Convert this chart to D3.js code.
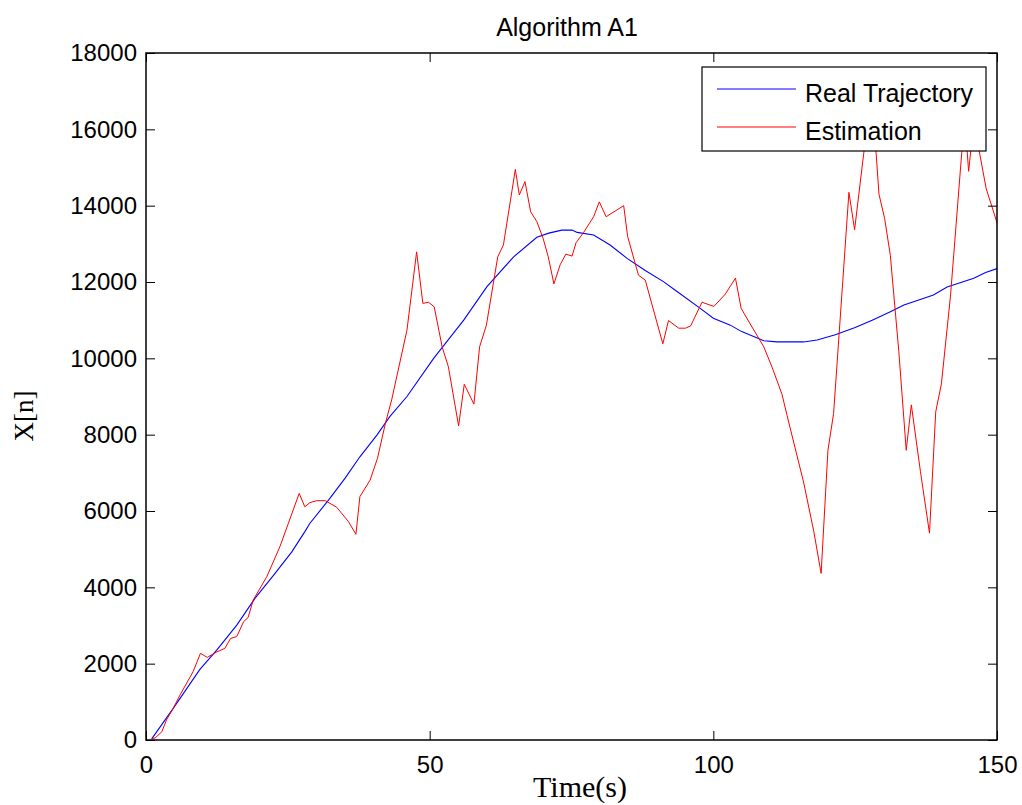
<!DOCTYPE html>
<html>
<head>
<meta charset="utf-8">
<script src="https://cdn.jsdelivr.net/npm/d3@7"></script>
<style>
  body { margin: 0; background: #fff; }
  svg { display: block; }
</style>
</head>
<body>
<div id="chart"></div>
<script>
// values
const realTime = [1, 4.8, 9.5, 12.5, 16, 19.2, 22.5, 25.7, 28, 28.9, 32.2, 35.1, 37.7, 40.7, 43, 46, 50.7, 56, 60.1, 64.8,
    68.9, 71, 73.3, 75.1, 76, 78.9, 81.8, 84.8, 88, 91.2, 93.6, 97.7, 100, 103, 105, 108.9, 111.2, 115.9, 118.3, 121.5,
    125, 128, 131.2, 133.6, 138.8, 141.2, 143.5, 145.9, 148, 150]
const realValue = [30, 830, 1850, 2360, 3010, 3710, 4320, 4930, 5460, 5680, 6290, 6860, 7420, 7990, 8480, 9000, 10000, 11000, 11880, 12660,
    13170, 13280, 13360, 13360, 13300, 13230, 12970, 12620, 12300, 12010, 11750, 11310, 11050, 10870, 10700, 10460, 10430, 10430, 10480, 10620,
    10810, 11000, 11220, 11400, 11660, 11870, 11980, 12100, 12250, 12350]

const estTime = [1, 1.6, 2.8, 3.6, 4.8, 6, 8.3, 9.6, 10.8, 12.5, 13.9, 14.9, 16, 17.2, 18, 18.9, 21.3, 23.6, 27, 28,
    28.9, 30.1, 31.6, 33.6, 35.7, 37, 37.7, 39.5, 40.8, 42.2, 43.3, 46, 47.7, 48.8, 49.8, 50.8, 52.2, 53.3, 55.1, 56.1,
    57.8, 58.8, 60, 62, 63, 65.1, 65.8, 66.8, 67.8, 68.9, 70, 70.9, 71.9, 73, 74, 75.1, 75.8, 77.1, 78.9, 79.9,
    81.1, 84.2, 84.9, 86.8, 88, 91.1, 92.1, 93.9, 95.1, 96, 98, 100.1, 102.1, 103.9, 104.9, 106.5, 108.9, 110.4, 112.1, 113,
    115.9, 117.7, 119, 120.2, 121.2, 123.9, 124.9, 126.5, 127.6, 128.7, 129.2, 130.2, 131.2, 132.7, 134, 134.9, 136.5, 138.1, 139.2, 140.2,
    141.8, 143.6, 144.3, 145, 145.9, 148.1, 149.1, 150]
const estValue = [40, 50, 218, 524, 830, 1180, 1790, 2270, 2165, 2310, 2400, 2660, 2710, 3100, 3210, 3670, 4280, 5065, 6460, 6110,
    6220, 6270, 6270, 6100, 5720, 5390, 6375, 6810, 7380, 8300, 8910, 10740, 12790, 11440, 11470, 11350, 10300, 9780, 8230, 9320,
    8800, 10300, 10870, 12660, 12970, 14950, 14280, 14630, 13840, 13580, 13140, 12660, 11950, 12450, 12730, 12680, 13030, 13290, 13710, 14100,
    13710, 14000, 13190, 12180, 12050, 10380, 10990, 10790, 10790, 10850, 11470, 11360, 11680, 12100, 11310, 10900, 10300, 9750, 9060, 8500,
    6760, 5470, 4365, 7590, 8555, 14350, 13370, 15360, 16600, 15360, 14300, 13660, 12700, 10170, 7590, 8780, 7040, 5420, 8600, 9330,
    11630, 15040, 16300, 14900, 16200, 14440, 13980, 13550]

const xTicks = [0, 50, 100, 150]
const yTicks = [0, 2000, 4000, 6000, 8000, 10000, 12000, 14000, 16000, 18000]
const seriesNames = ['Real Trajectory', 'Estimation']

const [WIDTH, HEIGHT] = [1022, 805]
const MARGIN = { left: 146, right: 25, top: 53, bottom: 65 }
const SANS = 'Liberation Sans, Arial, sans-serif'
const SERIF = 'Liberation Serif, Times New Roman, serif'
const TICK = 9

const svg = d3.select('#chart').append('svg')
    .attr('width', WIDTH)
    .attr('height', HEIGHT)

const x = d3.scaleLinear([0, 150], [MARGIN.left, WIDTH - MARGIN.right])
const y = d3.scaleLinear([0, 18000], [HEIGHT - MARGIN.bottom, MARGIN.top])

svg.append('clipPath').attr('id', 'plot-clip')
    .append('rect')
    .attr('x', x(0)).attr('y', y(18000))
    .attr('width', x(150) - x(0)).attr('height', y(0) - y(18000))

const line = d3.line().x(d => x(d[0])).y(d => y(d[1]))
const real = realTime.map((t, i) => [t, realValue[i]])
const est = estTime.map((t, i) => [t, estValue[i]])

const lines = svg.append('g').attr('clip-path', 'url(#plot-clip)')
lines.append('path').datum(real)
    .attr('d', line).attr('fill', 'none')
    .attr('stroke', '#0000ff').attr('stroke-width', 1.1)
lines.append('path').datum(est)
    .attr('d', line).attr('fill', 'none')
    .attr('stroke', '#ff0000').attr('stroke-width', 1)

// ticks pointing inwards on all four sides, like matlab
const styleAxis = g => {
    g.select('.domain').remove()
    g.selectAll('.tick line').attr('stroke', '#000')
    g.selectAll('text').attr('fill', '#000')
        .style('font-family', SANS).style('font-size', '24px')
}

svg.append('g')
    .attr('transform', `translate(0,${y(0)})`)
    .call(d3.axisBottom(x).tickValues(xTicks).tickSize(-TICK))
    .call(styleAxis)
    .call(g => g.selectAll('text').attr('dy', null).attr('y', 33))
svg.append('g')
    .attr('transform', `translate(0,${y(18000)})`)
    .call(d3.axisTop(x).tickValues(xTicks).tickSize(-TICK).tickFormat(''))
    .call(styleAxis)
svg.append('g')
    .attr('transform', `translate(${x(0)},0)`)
    .call(d3.axisLeft(y).tickValues(yTicks).tickSize(-TICK).tickPadding(9).tickFormat(d3.format('d')))
    .call(styleAxis)
svg.append('g')
    .attr('transform', `translate(${x(150)},0)`)
    .call(d3.axisRight(y).tickValues(yTicks).tickSize(-TICK).tickFormat(''))
    .call(styleAxis)

svg.append('rect')
    .attr('x', x(0)).attr('y', y(18000))
    .attr('width', x(150) - x(0)).attr('height', y(0) - y(18000))
    .attr('fill', 'none').attr('stroke', '#000').attr('stroke-width', 1.5)

svg.append('text')
    .attr('x', 567).attr('y', 36)
    .attr('text-anchor', 'middle')
    .style('font-family', SANS).style('font-size', '25px')
    .text('Algorithm A1')

svg.append('text')
    .attr('x', 580).attr('y', 797)
    .attr('text-anchor', 'middle')
    .style('font-family', SERIF).style('font-size', '30px')
    .text('Time(s)')

svg.append('text')
    .attr('transform', 'translate(33,416) rotate(-90)')
    .attr('text-anchor', 'middle')
    .style('font-family', SERIF).style('font-size', '27px')
    .text('X[n]')

// legend, white box drawn over the lines
const legend = svg.append('g')
legend.append('rect')
    .attr('x', 702).attr('y', 67).attr('width', 284).attr('height', 84)
    .attr('fill', '#fff').attr('stroke', '#000').attr('stroke-width', 1.2)
const colors = ['#0000ff', '#ff0000']
seriesNames.forEach((name, i) => {
    const ly = 89 + i * 38
    legend.append('line')
        .attr('x1', 717).attr('x2', 796).attr('y1', ly).attr('y2', ly)
        .attr('stroke', colors[i]).attr('stroke-width', 1)
    legend.append('text')
        .attr('x', 805).attr('y', ly + 13)
        .style('font-family', SANS).style('font-size', '25px')
        .text(name)
})
</script>
</body>
</html>
